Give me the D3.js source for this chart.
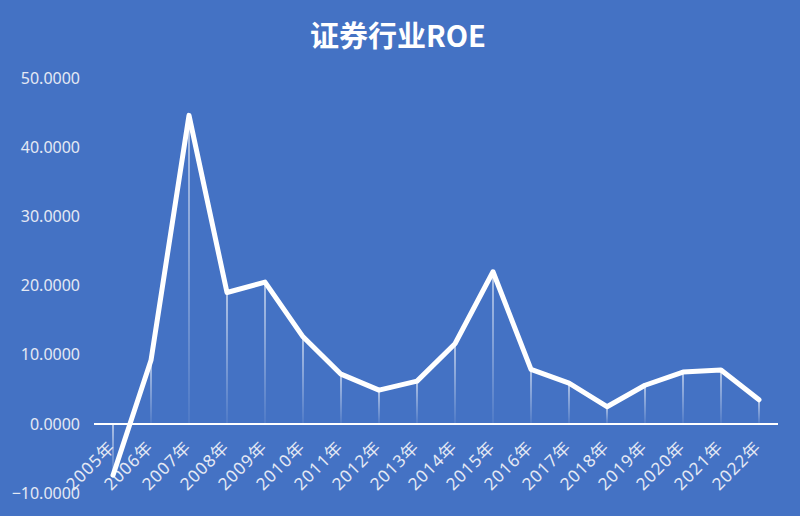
<!DOCTYPE html>
<html><head><meta charset="utf-8">
<script src="https://cdn.jsdelivr.net/npm/d3@7"></script>
<style>
html,body{margin:0;padding:0;background:#4472C4;}
svg{display:block;}
text{font-family:"Noto Sans","Noto Sans CJK SC",sans-serif;}
</style></head>
<body>
<svg id="c" width="800" height="516"></svg>
<script>
const categories = ["2005年","2006年","2007年","2008年","2009年","2010年","2011年","2012年","2013年","2014年","2015年","2016年","2017年","2018年","2019年","2020年","2021年","2022年"];
const roeValues = [-7.4, 9.2, 44.6, 19.0, 20.5, 12.6, 7.2, 4.9, 6.2, 11.6, 22.0, 7.9, 5.9, 2.5, 5.6, 7.5, 7.8, 3.5];
const yTicks = [-10, 0, 10, 20, 30, 40, 50];
const title = "证券行业ROE";

const svg = d3.select("#c");
const W = 800, H = 516;
svg.append("rect").attr("width", W).attr("height", H).attr("fill", "#4472C4");

const x = d3.scaleBand().domain(categories).range([94, 778]);
const y = d3.scaleLinear().domain([-10, 50]).range([493.2, 78]);

const defs = svg.append("defs");
const grad = defs.append("linearGradient").attr("id", "dropGrad")
  .attr("x1", 0).attr("y1", 0).attr("x2", 0).attr("y2", 1);
grad.append("stop").attr("offset", "0%").attr("stop-color", "#fff").attr("stop-opacity", 0.95);
grad.append("stop").attr("offset", "100%").attr("stop-color", "#fff").attr("stop-opacity", 0.1);

// title
svg.append("text").attr("x", 398).attr("y", 47).attr("text-anchor", "middle")
  .attr("fill", "#fff").attr("font-size", 29).attr("font-weight", "bold")
  .style("font-family", '"Noto Sans CJK SC","Noto Sans",sans-serif')
  .text(title);

// y axis labels
const yAxis = d3.axisLeft(y).tickValues(yTicks).tickSize(0).tickPadding(0)
  .tickFormat(d => d3.format(".4f")(d));
const gy = svg.append("g").attr("transform", "translate(80,0)").call(yAxis);
gy.select(".domain").remove();
gy.selectAll("text").attr("fill", "#e4e9f4").attr("font-size", 16)
  .style("font-family", '"Noto Sans","Noto Sans CJK SC",sans-serif');

// drop lines
const cx = d => x(d) + x.bandwidth() / 2;
svg.append("g").selectAll("rect").data(categories).join("rect")
  .attr("x", d => cx(d) - 0.6)
  .attr("width", 1.2)
  .attr("y", (d, i) => Math.min(y(roeValues[i]), y(0)))
  .attr("height", (d, i) => Math.max(1, Math.abs(y(roeValues[i]) - y(0))))
  .attr("fill", "url(#dropGrad)");

// x axis line
svg.append("line").attr("x1", 94).attr("x2", 778).attr("y1", y(0)).attr("y2", y(0))
  .attr("stroke", "#fff").attr("stroke-width", 2);

// x labels
const gx = svg.append("g");
gx.selectAll("text").data(categories).join("text")
  .attr("transform", d => `translate(${cx(d) - 1},${y(0) + 20}) rotate(-45)`)
  .attr("text-anchor", "end")
  .attr("dy", "0.35em")
  .attr("letter-spacing", 1)
  .attr("fill", "#e4e9f4").attr("font-size", 17)
  .style("font-family", '"Noto Sans","Noto Sans CJK SC",sans-serif')
  .text(d => d);

// line
const line = d3.line().x((d, i) => cx(categories[i])).y(d => y(d));
svg.append("path").datum(roeValues).attr("d", line)
  .attr("fill", "none").attr("stroke", "#fff").attr("stroke-width", 5)
  .attr("stroke-linejoin", "round").attr("stroke-linecap", "round");
</script>
</body></html>
